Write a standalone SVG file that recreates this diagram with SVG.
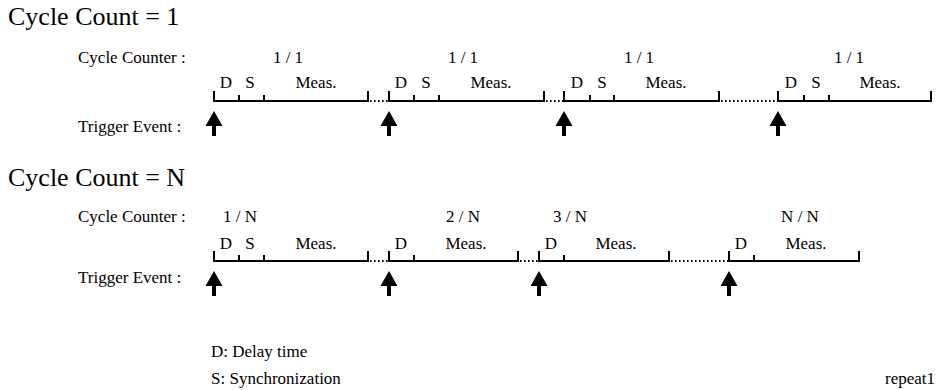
<svg xmlns="http://www.w3.org/2000/svg" width="940" height="390" viewBox="0 0 940 390">
<defs>
<style>
text{font-family:"Liberation Serif","Times New Roman",serif;fill:#000}
.title{font-size:26px}
.lbl{font-size:17px}
.c{text-anchor:middle}
.ln{stroke:#000;stroke-width:2;fill:none}
.dot{stroke:#000;stroke-width:2;fill:none;stroke-dasharray:1.6 2.4}
</style>
<polygon id="arr" points="0,0 -8.5,15 -2,15 -2,25 2,25 2,15 8.5,15" fill="#000"/>
</defs>
<rect width="940" height="390" fill="#fff"/>
<g id="row1">
<text class="title" x="8" y="25">Cycle Count = 1</text>
<text class="lbl" x="78" y="63">Cycle Counter :</text>
<text class="lbl" x="78" y="132">Trigger Event :</text>
<g class="lbl c">
<text x="288" y="63">1 / 1</text><text x="463" y="63">1 / 1</text><text x="639" y="63">1 / 1</text><text x="849" y="63">1 / 1</text>
<text x="226" y="88">D</text><text x="250" y="88">S</text><text x="316" y="88">Meas.</text>
<text x="401" y="88">D</text><text x="426" y="88">S</text><text x="491" y="88">Meas.</text>
<text x="577" y="88">D</text><text x="602" y="88">S</text><text x="666" y="88">Meas.</text>
<text x="791" y="88">D</text><text x="816" y="88">S</text><text x="880" y="88">Meas.</text>
</g>
</g>
<g id="row2">
<text class="title" x="8" y="186">Cycle Count = N</text>
<text class="lbl" x="78" y="222">Cycle Counter :</text>
<text class="lbl" x="78" y="283">Trigger Event :</text>
<g class="lbl c">
<text x="240" y="222">1 / N</text><text x="463" y="222">2 / N</text><text x="570" y="222">3 / N</text><text x="800" y="222">N / N</text>
<text x="226" y="249">D</text><text x="250" y="249">S</text><text x="316" y="249">Meas.</text>
<text x="401" y="249">D</text><text x="466" y="249">Meas.</text>
<text x="551" y="249">D</text><text x="616" y="249">Meas.</text>
<text x="741" y="249">D</text><text x="806" y="249">Meas.</text>
</g>
</g>
<g id="legend">
<text class="lbl" x="211" y="357">D: Delay time</text>
<text class="lbl" x="211" y="384">S: Synchronization</text>
<text class="lbl" x="935" y="384" text-anchor="end">repeat1</text>
</g>
<g id="connectors">
<path class="ln" d="M214,91V101H368V91M239,95V101M264,95V101"/>
<path class="ln" d="M389,91V101H544V91M414,95V101M439,95V101"/>
<path class="ln" d="M564,91V101H719V91M590,95V101M614,95V101"/>
<path class="ln" d="M778,91V101H931V91M804,95V101M829,95V101"/>
<path class="dot" d="M370,101H388M546,101H563M721,101H777"/>
<use href="#arr" x="214" y="111"/><use href="#arr" x="389" y="111"/><use href="#arr" x="564" y="111"/><use href="#arr" x="778" y="111"/>
<path class="ln" d="M214,251V261H368V251M239,255V261M264,255V261"/>
<path class="ln" d="M389,251V261H518V251M414,255V261"/>
<path class="ln" d="M539,251V261H669V251M564,255V261"/>
<path class="ln" d="M729,251V261H859V251M754,255V261"/>
<path class="dot" d="M370,261H388M520,261H538M671,261H728"/>
<use href="#arr" x="214" y="271"/><use href="#arr" x="389" y="271"/><use href="#arr" x="539" y="271"/><use href="#arr" x="729" y="271"/>
</g>
</svg>
